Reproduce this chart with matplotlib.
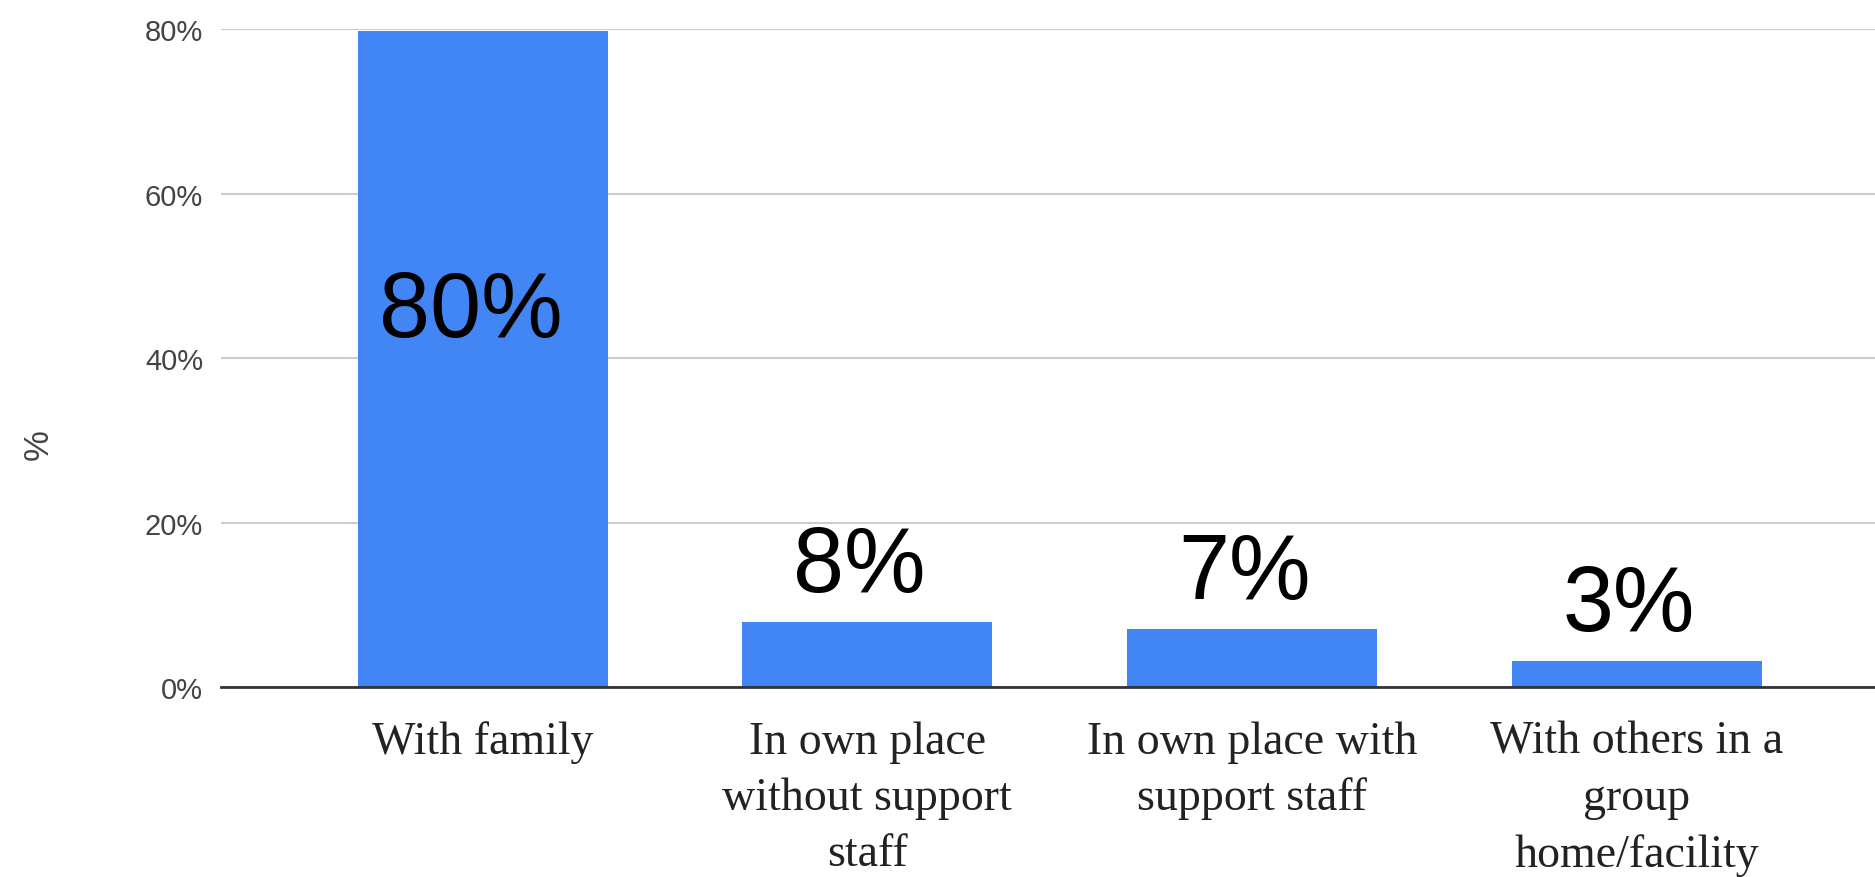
import matplotlib.pyplot as plt
import numpy as np

categories = ["With family", "In own place\nwithout support\nstaff",
              "In own place with\nsupport staff", "With others in a\ngroup\nhome/facility"]
values = [79.7, 7.9, 7.1, 3.2]
value_labels = ["80%", "8%", "7%", "3%"]
yticks = [0, 20, 40, 60, 80]
ytick_labels = ["0%", "20%", "40%", "60%", "80%"]

bar_color = "#4285F4"

fig = plt.figure(figsize=(18.75, 8.78), dpi=100)
ax = fig.add_axes([0.118, 0.2164, 0.882, 0.7494])

x = np.arange(len(categories))
ax.bar(x, values, width=0.65, color=bar_color, zorder=3)

# data labels: first one sits inside the tall bar, others above
for i, (v, lab) in enumerate(zip(values, value_labels)):
    if i == 0:
        ax.text(x[i] - 0.03, v * 0.535, lab, ha="center", va="baseline",
                fontsize=66, family="Liberation Sans", color="black", zorder=4)
    else:
        ax.annotate(lab, (x[i] - 0.02, v), xytext=(0, 22), textcoords="offset points",
                    ha="center", va="baseline", fontsize=66,
                    family="Liberation Sans", color="black", zorder=4)

ax.set_xlim(-0.68, 3.62)
ax.set_ylim(0, 80)
ax.set_yticks(yticks)
ax.set_yticklabels(ytick_labels, fontsize=21, color="#444444", family="Liberation Sans")
ax.set_xticks(x)
ax.set_xticklabels(categories, fontsize=33, family="Liberation Serif", color="#222222",
                   linespacing=1.42)
ax.tick_params(axis="both", length=0)
ax.tick_params(axis="y", pad=13)
ax.tick_params(axis="x", pad=24)

ax.grid(axis="y", color="#cccccc", linewidth=1.5, zorder=0)
for s in ["top", "right", "left"]:
    ax.spines[s].set_visible(False)
ax.spines["bottom"].set_color("#333333")
ax.spines["bottom"].set_linewidth(2)
ax.spines["bottom"].set_zorder(5)

fig.text(38 / 1875, 1 - 445 / 878, "%", rotation=90, ha="center", va="center",
         fontsize=25, color="#444444", family="Liberation Sans")

fig.savefig("out.png", dpi=100)
